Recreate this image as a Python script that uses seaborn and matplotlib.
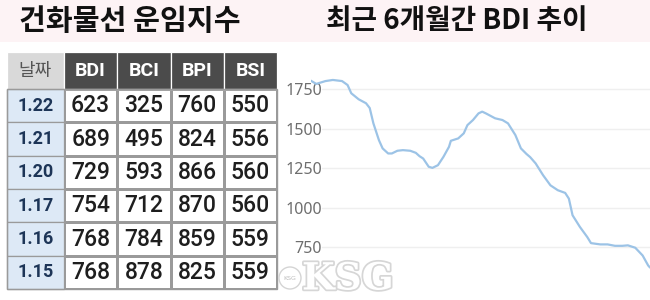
import numpy as np
import pandas as pd
import matplotlib
matplotlib.use("Agg")
import matplotlib.pyplot as plt
import seaborn as sns
from matplotlib.colors import ListedColormap
from matplotlib.patches import Rectangle, Ellipse
import matplotlib.patheffects as pe

# ---------------- data ----------------
title_left = "건화물선 운임지수"
title_right = "최근 6개월간 BDI 추이"
date_header = "날짜"
index_names = ["BDI", "BCI", "BPI", "BSI"]
dates = ["1.22", "1.21", "1.20", "1.17", "1.16", "1.15"]
bdi_col = [623, 689, 729, 754, 768, 768]
bci_col = [325, 495, 593, 712, 784, 878]
bpi_col = [760, 824, 866, 870, 859, 825]
bsi_col = [550, 556, 560, 560, 559, 559]

trend_start = "2019-07-22"
trend_day = [0, 3, 8, 12, 17, 20, 22, 26, 30, 32, 34, 37, 39, 42, 44, 47, 50,
             54, 57, 59, 61, 64, 66, 69, 72, 75, 76, 80, 83, 85, 88, 91, 93,
             95, 100, 104, 107, 111, 114, 117, 119, 122, 126, 130, 134, 138,
             140, 142, 146, 150, 152, 157, 161, 165, 169, 172, 176, 180, 183,
             184]
trend_bdi = [1803, 1782, 1800, 1807, 1800, 1775, 1723, 1685, 1660, 1630, 1533,
             1427, 1375, 1343, 1343, 1360, 1364, 1360, 1347, 1326, 1311, 1259,
             1252, 1269, 1322, 1385, 1423, 1438, 1470, 1522, 1554, 1596, 1607,
             1596, 1565, 1554, 1533, 1459, 1375, 1340, 1320, 1280, 1206, 1142,
             1111, 1094, 1058, 953, 879, 815, 777, 769, 769, 760, 760, 763,
             748, 699, 636, 623]
ytick_values = [750, 1000, 1250, 1500, 1750]
watermark = "KSG"

# ---------------- style ----------------
sns.set_theme(style="white")
plt.rcParams["font.family"] = ["Noto Sans CJK KR", "DejaVu Sans"]
NUMF = ["Roboto", "DejaVu Sans"]

W, H = 650, 300
fig = plt.figure(figsize=(6.5, 3), dpi=100)
fig.patch.set_facecolor("white")

# pink title band
fig.patches.append(Rectangle((0, 1 - 42 / H), 1, 42 / H, transform=fig.transFigure,
                             facecolor="#fdf3f5", edgecolor="none", zorder=-1))
fig.text(130 / W, 1 - 21 / H, title_left, ha="center", va="center",
         fontsize=21, fontweight="bold", color="#111111")
fig.text(457 / W, 1 - 21 / H, title_right, ha="center", va="center",
         fontsize=20, fontweight="bold", color="#111111")

# ---------------- table (seaborn heatmap body) ----------------
tax = fig.add_axes([7 / W, 11 / H, 270 / W, 237 / H])
df = pd.DataFrame({n: c for n, c in zip(index_names, [bdi_col, bci_col, bpi_col, bsi_col])},
                  index=dates)
sns.heatmap(df, ax=tax, annot=True, fmt="d", cmap=ListedColormap(["white"]),
            cbar=False, linewidths=0.9, linecolor="#9a9a9a",
            annot_kws=dict(fontsize=16.5, color="#1e1e1e", fontweight="medium",
                           family=NUMF))
DW = 57 / 53.25
HH = 37 / 33.33
tax.set_xlim(-DW, 4)
tax.set_ylim(6, -HH)
tax.set_xticks([])
tax.set_yticks([])
tax.set_xlabel("")
tax.set_ylabel("")
for s in tax.spines.values():
    s.set_visible(False)

# header row
tax.add_patch(Rectangle((-DW, -HH), DW, HH, facecolor="#d9d9d9", edgecolor="white",
                        lw=0.9, clip_on=False))
tax.text(-DW / 2, -HH / 2, date_header, ha="center", va="center", fontsize=13,
         color="#555555")
for j, name in enumerate(index_names):
    tax.add_patch(Rectangle((j, -HH), 1, HH, facecolor="#4b4b4b", edgecolor="white",
                            lw=0.9, clip_on=False))
    tax.text(j + 0.5, -HH / 2, name, ha="center", va="center", fontsize=14,
             fontweight="bold", color="white", family=NUMF)
# date column
for i, d in enumerate(dates):
    tax.add_patch(Rectangle((-DW, i), DW, 1, facecolor="#dde9f6", edgecolor="#9a9a9a",
                            lw=0.9, clip_on=False))
    tax.text(-DW / 2, i + 0.5, d, ha="center", va="center", fontsize=13,
             fontweight="bold", color="#1d3557", family=NUMF)
tax.add_patch(Rectangle((-DW, 0), 4 + DW, 6, facecolor="none", edgecolor="#9a9a9a",
                        lw=1.0, clip_on=False))

# ---------------- line chart ----------------
lax = fig.add_axes([310.7 / W, 0, 339.3 / W, 240 / H])
lax.set_facecolor("none")
t = pd.to_datetime(trend_start) + pd.to_timedelta(trend_day, unit="D")
for v in ytick_values:
    lax.axhline(v, xmin=0.034, xmax=1, color="#efefef", lw=1.0, zorder=0)
sns.lineplot(x=t, y=trend_bdi, ax=lax, color="#9cc3e6", lw=1.6)
lax.set_xlim(t.min(), t.max())
lax.set_ylim(418, 1933)
lax.set_yticks(ytick_values)
lax.set_yticklabels([str(v) for v in ytick_values], family=["Noto Sans", "DejaVu Sans"])
lax.tick_params(axis="y", pad=-8, length=0, labelcolor="#6e6e6e", labelsize=11.5)
lax.set_xticks([])
lax.set_xlabel("")
lax.set_ylabel("")
lax.grid(False)
for s in lax.spines.values():
    s.set_visible(False)

# ---------------- watermark ----------------
fig.patches.append(Ellipse((290 / W, 1 - 278 / H), 22 / W, 22 / H, transform=fig.transFigure,
                           facecolor="white", edgecolor="#d4d4d4", lw=1.0, zorder=3))
fig.text(290 / W, 1 - 278 / H, watermark, ha="center", va="center", fontsize=4.5,
         color="#bdbdbd", family=["DejaVu Sans"])
fig.text(302 / W, 1 - 279 / H, watermark, ha="left", va="center", fontsize=27,
         fontweight="heavy", color="white", family=["DejaVu Serif"],
         path_effects=[pe.withStroke(linewidth=2.5, foreground="#d6d6d6")])

fig.savefig("out.png", dpi=100, facecolor=fig.get_facecolor())
